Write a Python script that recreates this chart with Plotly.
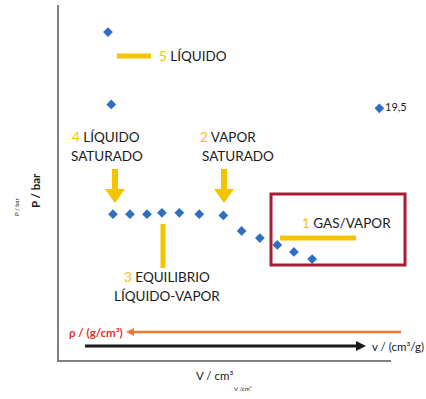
import plotly.graph_objects as go

# Volume (cm3) and pressure (bar) readings for the isotherm
volume = [5.9, 6.3, 6.5, 8.55, 10.6, 12.4, 14.5, 16.9, 19.8, 22.0, 24.2, 26.3, 28.3, 30.5, 38.6]
pressure = [25.4, 19.8, 11.3, 11.3, 11.3, 11.4, 11.4, 11.3, 11.2, 10.0, 9.45, 8.91, 8.37, 7.82, 19.5]
point_labels = ["", "", "", "", "", "", "", "", "", "", "", "", "", "", "19,5"]

X_RANGE = [0, 40]
Y_RANGE = [0, 27.5]

W, H = 426, 399
ML, MR, MT, MB = 59, 35, 5, 39
PW, PH = W - ML - MR, H - MT - MB

YELLOW = "#F5C400"
BLACK = "#1a1a1a"
FONT = "Lato"


def px(xp):
    return (xp - ML) / PW


def py(yp):
    return (H - MB - yp) / PH


fig = go.Figure()
fig.add_trace(go.Scatter(
    x=volume, y=pressure, mode="markers+text",
    marker=dict(symbol="diamond", size=7.5, color="#2E6FC4"),
    text=point_labels, textposition="middle right",
    textfont=dict(family=FONT, size=11, color=BLACK),
    cliponaxis=False, showlegend=False,
))

shapes = []
annotations = []


def hbar(x0, x1, y, color=YELLOW, t=5):
    shapes.append(dict(type="rect", xref="paper", yref="paper",
                       x0=px(x0), x1=px(x1), y0=py(y + t / 2), y1=py(y - t / 2),
                       fillcolor=color, line=dict(width=0)))


def vbar(x, y0, y1, color=YELLOW, t=5):
    shapes.append(dict(type="rect", xref="paper", yref="paper",
                       x0=px(x - t / 2), x1=px(x + t / 2), y0=py(y1), y1=py(y0),
                       fillcolor=color, line=dict(width=0)))


def down_arrow(x, y0, tip):
    vbar(x, y0, tip - 12, t=6)
    path = "M {} {} L {} {} L {} {} Z".format(
        px(x - 10), py(tip - 14), px(x + 10), py(tip - 14), px(x), py(tip))
    shapes.append(dict(type="path", xref="paper", yref="paper", path=path,
                       fillcolor=YELLOW, line=dict(width=0)))


def h_arrow(x_tail, x_tip, y, color, width, head_len, head_half):
    d = 1 if x_tip > x_tail else -1
    shapes.append(dict(type="line", xref="paper", yref="paper",
                       x0=px(x_tail), x1=px(x_tip - d * head_len), y0=py(y), y1=py(y),
                       line=dict(color=color, width=width)))
    path = "M {} {} L {} {} L {} {} Z".format(
        px(x_tip - d * head_len), py(y - head_half), px(x_tip - d * head_len), py(y + head_half),
        px(x_tip), py(y))
    shapes.append(dict(type="path", xref="paper", yref="paper", path=path,
                       fillcolor=color, line=dict(width=0)))


def text(x, y, s, size=13.5, color=BLACK, xanchor="center", angle=0, bold=False):
    if bold:
        s = "<b>" + s + "</b>"
    annotations.append(dict(xref="paper", yref="paper", x=px(x), y=py(y), text=s,
                            showarrow=False, xanchor=xanchor, yanchor="middle",
                            textangle=angle,
                            font=dict(family=FONT, size=size, color=color)))


def num(n):
    return "<span style='color:{}'>{}</span>".format(YELLOW, n)


# 5 - liquid
hbar(117, 151, 56)
text(157, 56, num(5) + " LÍQUIDO", xanchor="left")

# 4 - saturated liquid
text(106, 137, num(4) + " LÍQUIDO")
text(107, 156, "SATURADO")
down_arrow(115, 169, 203)

# 2 - saturated vapour
text(228, 137, num(2) + " VAPOR")
text(238, 156, "SATURADO")
down_arrow(224, 169, 203)

# 3 - liquid-vapour equilibrium
vbar(163, 224, 268)
text(167, 277, num(3) + " EQUILIBRIO")
text(167, 296, "LÍQUIDO-VAPOR")

# 1 - gas / vapour region
shapes.append(dict(type="rect", xref="paper", yref="paper",
                   x0=px(271), x1=px(405), y0=py(265), y1=py(194),
                   line=dict(color="#A31F34", width=3)))
text(300, 223, num(1) + " GAS/VAPOR", xanchor="left")
hbar(280, 356, 238)

# density and specific volume directions
h_arrow(401, 126, 332, "#F07A32", 2.5, 8, 4)
text(67, 332, "ρ / (g/cm³)", size=11.5, color="#E0302A", xanchor="left", bold=True)
h_arrow(85, 366, 346, BLACK, 3, 10, 5)
text(370, 346, "v / (cm³/g)", size=11.5, xanchor="left")

# axis titles
text(35, 191, "P / bar", size=11.5, angle=-90, bold=True)
text(16, 207, "P / bar", size=6, angle=-90)
text(214, 375, "V / cm³", size=11.5)
text(243, 389, "V /cm³", size=6)

fig.update_layout(
    width=W, height=H,
    margin=dict(l=ML, r=MR, t=MT, b=MB),
    paper_bgcolor="white", plot_bgcolor="white",
    shapes=shapes, annotations=annotations,
    xaxis=dict(range=X_RANGE, showgrid=False, zeroline=False, showticklabels=False,
               ticks="", showline=True, linecolor="#808080", linewidth=1.5),
    yaxis=dict(range=Y_RANGE, showgrid=False, zeroline=False, showticklabels=False,
               ticks="", showline=True, linecolor="#808080", linewidth=1.5),
)

fig.write_html("out.html")
